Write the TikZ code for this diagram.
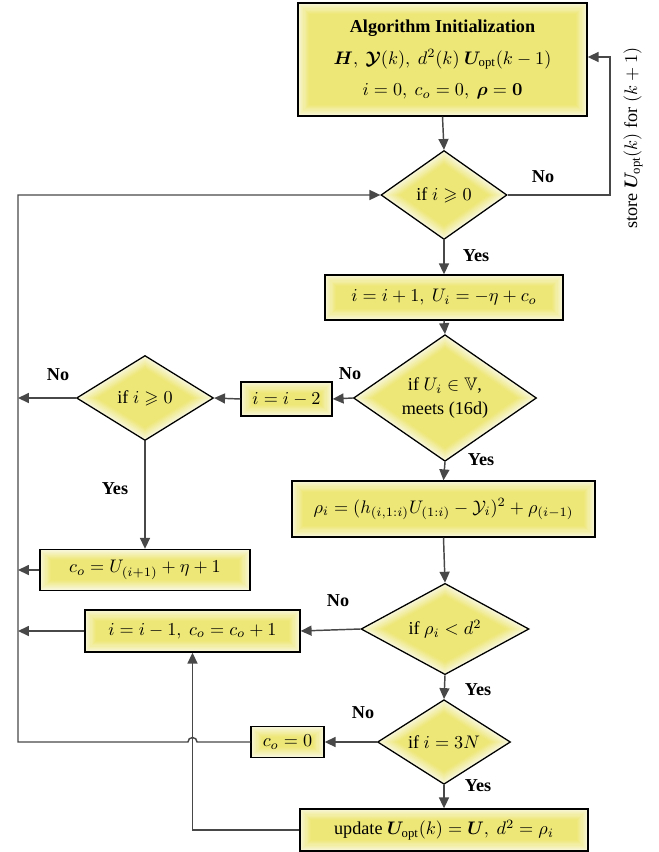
\documentclass[tikz,border=0pt]{standalone}
\usepackage{amsmath,amssymb,bm}
\usepackage[no-math]{fontspec}
\setmainfont{Liberation Serif}
\usetikzlibrary{shapes.geometric,arrows.meta}
\definecolor{yc}{RGB}{237,231,120}
\definecolor{ye}{RGB}{248,247,222}
\definecolor{ln}{RGB}{72,72,72}
\begin{document}
\begin{tikzpicture}[x=0.55pt,y=-0.55pt,
  glowr/.style={fill=yc, path picture={%
    \foreach \k in {0,...,9}{%
      \pgfmathsetmacro\wd{(10-\k)*1.2}%
      \pgfmathsetmacro\pc{95-\k*10}%
      \draw[line width=\wd pt, draw=yc!\pc!ye] (path picture bounding box.south west) rectangle (path picture bounding box.north east);}}},
  glowd/.style={fill=yc, path picture={%
    \foreach \k in {0,...,9}{%
      \pgfmathsetmacro\wd{(10-\k)*1.2}%
      \pgfmathsetmacro\pc{95-\k*10}%
      \draw[line width=\wd pt, draw=yc!\pc!ye, line join=miter] (path picture bounding box.north) -- (path picture bounding box.east) -- (path picture bounding box.south) -- (path picture bounding box.west) -- cycle;}}},
  box/.style={rectangle, draw=black, line width=0.75pt, glowr, inner sep=0pt, align=center},
  dia/.style={diamond, draw=black, line width=0.7pt, glowd, inner sep=0pt, align=center},
  arr/.style={draw=ln, line width=0.8pt, -{Triangle[length=6pt,width=5.5pt]}},
  lab/.style={font=\bfseries, inner sep=0pt}]
\useasboundingbox (0,0) rectangle (658,852);

% nodes
\node[box, minimum width=289*0.55pt, minimum height=113*0.55pt] (init) at (442.5,59.5)
  {\textbf{Algorithm Initialization}\\[5.5pt]
   $\bm{H},\ \bm{\mathcal{Y}}(k),\ d^2(k)\ \bm{U}_{\text{opt}}(k-1)$\\[5.5pt]
   $i=0,\ c_o=0,\ \bm{\rho}=\bm{0}$};
\node[dia, minimum width=126*0.55pt, minimum height=89*0.55pt] (d1) at (444,195) {if $i\geqslant 0$};
\node[box, minimum width=238*0.55pt, minimum height=45*0.55pt] (b2) at (444,297.5) {$i=i+1,\ U_i=-\eta+c_o$};
\node[dia, minimum width=183*0.55pt, minimum height=97*0.55pt] (d2) at (445,398) {if $U_i\in\mathbb{V}$,\\[1pt] meets (16d)};
\node[box, minimum width=91*0.55pt, minimum height=34*0.55pt] (m2) at (286.5,399) {$i=i-2$};
\node[dia, minimum width=137*0.55pt, minimum height=85*0.55pt] (d3) at (145,398) {if $i\geqslant 0$};
\node[box, minimum width=210*0.55pt, minimum height=41*0.55pt] (c1) at (145,570) {$c_o=U_{(i+1)}+\eta+1$};
\node[box, minimum width=303*0.55pt, minimum height=56*0.55pt] (rho) at (443.5,509) {$\rho_i=(h_{(i,1:i)}U_{(1:i)}-\mathcal{Y}_i)^2+\rho_{(i-1)}$};
\node[dia, minimum width=168*0.55pt, minimum height=82*0.55pt] (d4) at (445,629) {if $\rho_i<d^2$};
\node[box, minimum width=215*0.55pt, minimum height=42*0.55pt] (m1) at (192.5,631) {$i=i-1,\ c_o=c_o+1$};
\node[dia, minimum width=133*0.55pt, minimum height=71*0.55pt] (d5) at (444,742) {if $i=3N$};
\node[box, minimum width=73*0.55pt, minimum height=31*0.55pt] (c0) at (287.5,742) {$c_o=0$};
\node[box, minimum width=288*0.55pt, minimum height=42*0.55pt] (upd) at (444,830) {update $\bm{U}_{\text{opt}}(k)=\bm{U},\ d^2=\rho_i$};

% coordinates
\coordinate (fb) at (610,57);
\coordinate (lt) at (18,195);
\coordinate (lb) at (18,742);
\coordinate (l3) at (18,398);
\coordinate (lc) at (18,570);
\coordinate (lm) at (18,631);
\coordinate (jp) at (192.5,742);
\coordinate (ub) at (192.5,830);

% connectors
\draw[arr] (init.south) -- (d1.north);
\draw[arr] (d1.east) -| (fb) -- (init.east |- fb);
\draw[arr] (d1.south) -- (b2.north);
\draw[arr] (b2.south) -- (d2.north);
\draw[arr] (d2.west) -- (m2.east);
\draw[arr] (m2.west) -- (d3.east);
\draw[arr] (d3.west) -- (l3);
\draw[arr] (d3.south) -- (c1.north);
\draw[arr] (c1.west) -- (lc);
\draw[arr] (d2.south) -- (rho.north);
\draw[arr] (rho.south) -- (d4.north);
\draw[arr] (d4.west) -- (m1.east);
\draw[arr] (m1.west) -- (lm);
\draw[arr] (d4.south) -- (d5.north);
\draw[arr] (d5.west) -- (c0.east);
\draw[arr] (d5.south) -- (upd.north);
\draw[arr] (c0.west) -- ([xshift=2.5pt]jp) arc[start angle=0,end angle=180,radius=2.5pt] -- (lb) -- (lt) -- (d1.west);
\draw[arr] (upd.west) -- (ub) -- (m1.south);

% labels
\node[lab] (n1) at (543,177) {No};
\node[lab] (y1) at (476,256) {Yes};
\node[lab] (n2) at (350,374) {No};
\node[lab] (n3) at (58,375) {No};
\node[lab] (y3) at (115,489) {Yes};
\node[lab] (y2) at (481,460) {Yes};
\node[lab] (n4) at (338,601) {No};
\node[lab] (y4) at (478,690) {Yes};
\node[lab] (n5) at (363,713) {No};
\node[lab] (y5) at (478,786) {Yes};
\node[rotate=90, inner sep=0pt] (st) at (633,138) {store $\bm{U}_{\text{opt}}(k)$ for $(k+1)$};
\end{tikzpicture}
\end{document}
